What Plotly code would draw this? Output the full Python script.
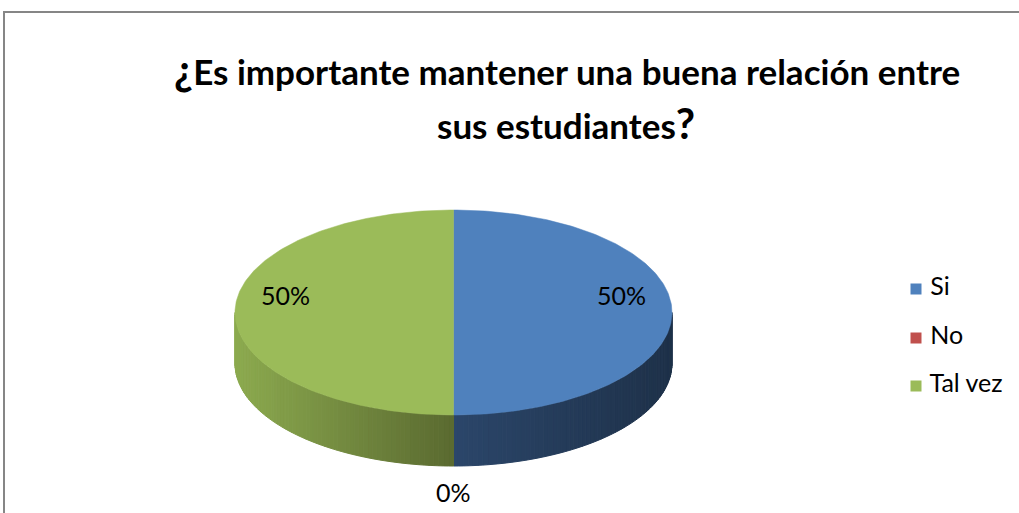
import numpy as np
import plotly.graph_objects as go

# ---- data ----
categories = ['Si', 'No', 'Tal vez']
values = [50, 0, 50]
top_colors = ['#4F81BD', '#C0504D', '#9BBB59']
# side shading: colour at the left end and right end of each slice's front wall
side_left = ['#2B466A', '#8E3A38', '#8CAA4F']
side_right = ['#1E3149', '#6E2B29', '#5A6A30']
title_lines = ['¿Es importante mantener una buena relación entre', 'sus estudiantes?']

# ---- geometry of the 3d pie (pixel space) ----
W, H = 1019, 513
cx, cy = 453.5, 312.5
rx, ry = 218.5, 102.5
depth = 51
FONT = 'Lato'


def hex2rgb(h):
    h = h.lstrip('#')
    return np.array([int(h[i:i + 2], 16) for i in (0, 2, 4)], dtype=float)


def mix(c1, c2, t):
    c = hex2rgb(c1) * (1 - t) + hex2rgb(c2) * t
    return 'rgb(%d,%d,%d)' % tuple(np.round(c).astype(int))


def pt(theta, dy=0.0):
    # theta clockwise from 12 o'clock, like Excel
    return cx + rx * np.sin(theta), cy - ry * np.cos(theta) + dy


def big_marks(s):
    # the inverted / normal question marks are drawn larger in the original
    for ch in ('¿', '?'):
        s = s.replace(ch, '<span style="font-size:42px">%s</span>' % ch)
    return '<b>%s</b>' % s


total = sum(values)
fracs = [v / total for v in values]
starts = np.concatenate([[0], np.cumsum(fracs)[:-1]]) * 2 * np.pi
ends = np.cumsum(fracs) * 2 * np.pi

fig = go.Figure()

# front walls (only the part facing the viewer: pi/2 .. 3pi/2)
n_strips = 70
for i, cat in enumerate(categories):
    a = max(starts[i], np.pi / 2)
    b = min(ends[i], 3 * np.pi / 2)
    if b <= a:
        continue
    ang = np.linspace(a, b, n_strips + 1)
    xs_all = [pt(t)[0] for t in ang]
    xmin, xmax = min(xs_all), max(xs_all)
    for k in range(n_strips):
        t0, t1 = ang[k], ang[k + 1]
        sub = np.linspace(t0, t1, 4)
        top = [pt(t) for t in sub]
        bot = [pt(t, depth) for t in sub[::-1]]
        poly = top + bot + [top[0]]
        xm = (pt(t0)[0] + pt(t1)[0]) / 2
        frac = (xm - xmin) / (xmax - xmin) if xmax > xmin else 0
        col = mix(side_left[i], side_right[i], frac)
        fig.add_trace(go.Scatter(
            x=[p[0] for p in poly], y=[p[1] for p in poly],
            mode='lines', fill='toself', fillcolor=col,
            line=dict(color=col, width=1), hoverinfo='skip', showlegend=False))

# top faces
for i, cat in enumerate(categories):
    if values[i] == 0:
        continue
    ang = np.linspace(starts[i], ends[i], 200)
    xs = [cx] + [pt(t)[0] for t in ang] + [cx]
    ys = [cy] + [pt(t)[1] for t in ang] + [cy]
    fig.add_trace(go.Scatter(
        x=xs, y=ys, mode='lines', fill='toself', fillcolor=top_colors[i],
        line=dict(color=top_colors[i], width=0.5), name=cat,
        hoverinfo='name', showlegend=False))

# data labels
for i, cat in enumerate(categories):
    mid = (starts[i] + ends[i]) / 2
    pct = '%d%%' % round(values[i] / total * 100)
    if values[i] == 0:
        lx, ly = pt(mid, depth)
        ly += 26 if np.cos(mid) < 0 else -26
    else:
        lx = cx + 0.77 * rx * np.sin(mid)
        ly = cy - 0.77 * ry * np.cos(mid) - 18
    fig.add_annotation(x=lx, y=ly, text=pct, showarrow=False,
                       font=dict(family=FONT, size=25, color='#000000'))

# legend
leg_y = [289, 338, 386]
fig.add_trace(go.Scatter(
    x=[916] * len(categories), y=leg_y, mode='markers+text',
    marker=dict(symbol='square', size=11, color=top_colors),
    text=[' ' + c for c in categories], textposition='middle right',
    textfont=dict(family=FONT, size=25, color='#000000'),
    hoverinfo='skip', showlegend=False))

# title (two lines, as in the original)
fig.add_annotation(x=567, y=69, text=big_marks(title_lines[0]), showarrow=False,
                   font=dict(family=FONT, size=35, color='#000000'))
fig.add_annotation(x=566, y=123, text=big_marks(title_lines[1]), showarrow=False,
                   font=dict(family=FONT, size=35, color='#000000'))

# chart-area border (only top and left edges are inside the picture)
fig.add_shape(type='line', x0=3, y0=12, x1=W + 20, y1=12,
              line=dict(color='#868686', width=2))
fig.add_shape(type='line', x0=4, y0=11, x1=4, y1=H + 20,
              line=dict(color='#868686', width=2))

fig.update_layout(
    width=W, height=H, margin=dict(l=0, r=0, t=0, b=0),
    paper_bgcolor='white', plot_bgcolor='white',
    xaxis=dict(range=[0, W], visible=False, fixedrange=True),
    yaxis=dict(range=[H, 0], visible=False, fixedrange=True),
    showlegend=False,
)

fig.write_html("out.html", config={'displayModeBar': False},
               post_script="document.body.style.margin='0';")
